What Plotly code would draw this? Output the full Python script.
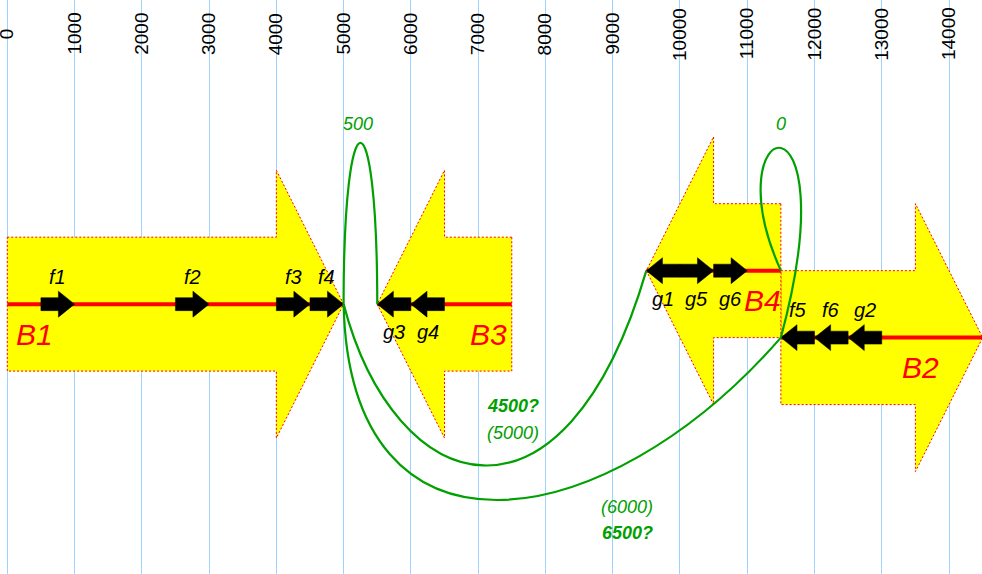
import plotly.graph_objects as go

# ---------------- data ----------------
tick_values = [0, 1000, 2000, 3000, 4000, 5000, 6000, 7000, 8000, 9000, 10000, 11000, 12000, 13000, 14000]
tick_labels = [str(v) for v in tick_values]

block_names = ["B1", "B2", "B3", "B4"]
block_starts = [0, 11500, 5500, 9500]
block_ends = [5000, 14500, 7500, 11500]
block_strands = ["+", "+", "-", "-"]
block_rows = [0, -1, 0, 1]
block_label_x = [400, 13580, 7160, 11230]

gene_names = ["f1", "f2", "f3", "f4", "g3", "g4", "g1", "g5", "g6", "f5", "f6", "g2"]
gene_starts = [500, 2500, 4000, 4500, 5500, 6000, 9500, 10000, 10500, 11500, 12000, 12500]
gene_ends = [1000, 3000, 4500, 5000, 6000, 6500, 10000, 10500, 11000, 12000, 12500, 13000]
gene_strands = ["+", "+", "+", "+", "-", "-", "-", "+", "+", "-", "-", "-"]
gene_blocks = ["B1", "B1", "B1", "B1", "B3", "B3", "B4", "B4", "B4", "B2", "B2", "B2"]
gene_label_side = ["above"] * 4 + ["below"] * 5 + ["above"] * 3

# connections between block ends (x position, row)
conn_from_x = [5000, 11500, 5000, 5000]
conn_from_row = [0, 1, 0, 0]
conn_to_x = [5500, 11500, 9500, 11500]
conn_to_row = [0, -1, 1, -1]
conn_labels = [["500"], ["0"], ["<b>4500?</b>", "(5000)"], ["(6000)", "<b>6500?</b>"]]

# ---------------- style / geometry ----------------
ROW_OFF = 0.5          # vertical offset of a row (units of block half-height)
BODY = 1.0             # block body half-height
HEAD = 2.0             # block head half-height
HEAD_LEN = 1000        # block head length
G_BODY = 0.097
G_HEAD = 0.194
G_HEAD_LEN = 240
YELLOW = "#ffff00"
RED = "#ff0000"
GREEN = "#00a000"
FONT = "Liberation Sans, Arial, sans-serif"

# curve control points (dx from endpoint, y level) per connection
conn_ctrl = [
    ((0, 3.21), (0, 3.21)),
    ((-1041, 2.83), (1041, 3.39)),
    ((758, -2.92), (-1219, -3.67)),
    ((89, -4.115), (-2617, -3.518)),
]
conn_label_pos = [
    [(5214, 2.69)],
    [(11502, 2.69)],
    [(7518, -1.52), (7518, -1.92)],
    [(9213, -3.03), (9213, -3.42)],
]

row_y = {n: r * ROW_OFF for n, r in zip(block_names, block_rows)}


def poly_path(pts):
    return "M " + " L ".join(f"{x},{y}" for x, y in pts) + " Z"


def arrow_pts(s, e, strand, c, bh, hh, hl):
    hl = min(hl, e - s)
    if strand == "+":
        b = e - hl
        return [(s, c + bh), (b, c + bh), (b, c + hh), (e, c), (b, c - hh), (b, c - bh), (s, c - bh)]
    b = s + hl
    return [(e, c + bh), (b, c + bh), (b, c + hh), (s, c), (b, c - hh), (b, c - bh), (e, c - bh)]


fig = go.Figure()
# invisible trace to establish axes
fig.add_trace(go.Scatter(x=[tick_values[0], tick_values[-1]], y=[0, 0], mode="markers",
                         marker=dict(opacity=0), hoverinfo="skip", showlegend=False))

shapes = []
annotations = []

# blocks
for n, s, e, st, lx in zip(block_names, block_starts, block_ends, block_strands, block_label_x):
    c = row_y[n]
    shapes.append(dict(type="path", xref="x", yref="y", path=poly_path(arrow_pts(s, e, st, c, BODY, HEAD, HEAD_LEN)),
                       fillcolor=YELLOW, line=dict(color=RED, width=1, dash="2px,2px"), layer="above"))
    shapes.append(dict(type="line", xref="x", yref="y", x0=s, x1=e, y0=c, y1=c,
                       line=dict(color=RED, width=4), layer="above"))
    annotations.append(dict(x=lx, y=c - 0.45, xref="x", yref="y", text=f"<i>{n}</i>", showarrow=False,
                            font=dict(family=FONT, size=30, color=RED), xanchor="center", yanchor="middle"))

# genes
for n, s, e, st, b, side in zip(gene_names, gene_starts, gene_ends, gene_strands, gene_blocks, gene_label_side):
    c = row_y[b]
    shapes.append(dict(type="path", xref="x", yref="y", path=poly_path(arrow_pts(s, e, st, c, G_BODY, G_HEAD, G_HEAD_LEN)),
                       fillcolor="black", line=dict(color="black", width=0.5), layer="above"))
    ly = c + 0.41 if side == "above" else c - 0.42
    annotations.append(dict(x=(s + e) / 2, y=ly, xref="x", yref="y", text=f"<i>{n}</i>", showarrow=False,
                            font=dict(family=FONT, size=20, color="black"), xanchor="center", yanchor="middle"))

# connections
for fx, fr, tx, tr, ctrl, labs, lpos in zip(conn_from_x, conn_from_row, conn_to_x, conn_to_row,
                                             conn_ctrl, conn_labels, conn_label_pos):
    y0 = fr * ROW_OFF
    y3 = tr * ROW_OFF
    (d1, c1), (d2, c2) = ctrl
    path = f"M {fx},{y0} C {fx + d1},{c1} {tx + d2},{c2} {tx},{y3}"
    shapes.append(dict(type="path", xref="x", yref="y", path=path,
                       line=dict(color=GREEN, width=2.2), layer="above"))
    for t, (px, py) in zip(labs, lpos):
        annotations.append(dict(x=px, y=py, xref="x", yref="y", text=f"<i>{t}</i>", showarrow=False,
                                font=dict(family=FONT, size=18, color=GREEN), xanchor="center", yanchor="middle"))

# tick labels (rotated, near the top)
for v, t in zip(tick_values, tick_labels):
    annotations.append(dict(x=v, y=1 - 34 / 574, xref="x", yref="paper", text=t, textangle=-90, showarrow=False,
                            font=dict(family=FONT, size=19, color="black"), xanchor="center", yanchor="middle"))

fig.update_layout(
    width=982, height=574,
    margin=dict(l=0, r=0, t=0, b=0),
    paper_bgcolor="white", plot_bgcolor="white",
    shapes=shapes, annotations=annotations,
    xaxis=dict(range=[-108, 14490], tickvals=tick_values, showticklabels=False, showgrid=True,
               gridcolor="#9fd3ff", gridwidth=1, zeroline=False, showline=False, fixedrange=True),
    yaxis=dict(range=[-4.03, 4.542], showgrid=False, zeroline=False, showticklabels=False, showline=False,
               fixedrange=True),
    showlegend=False,
)

fig.write_html("out.html", config={"displayModeBar": False})
